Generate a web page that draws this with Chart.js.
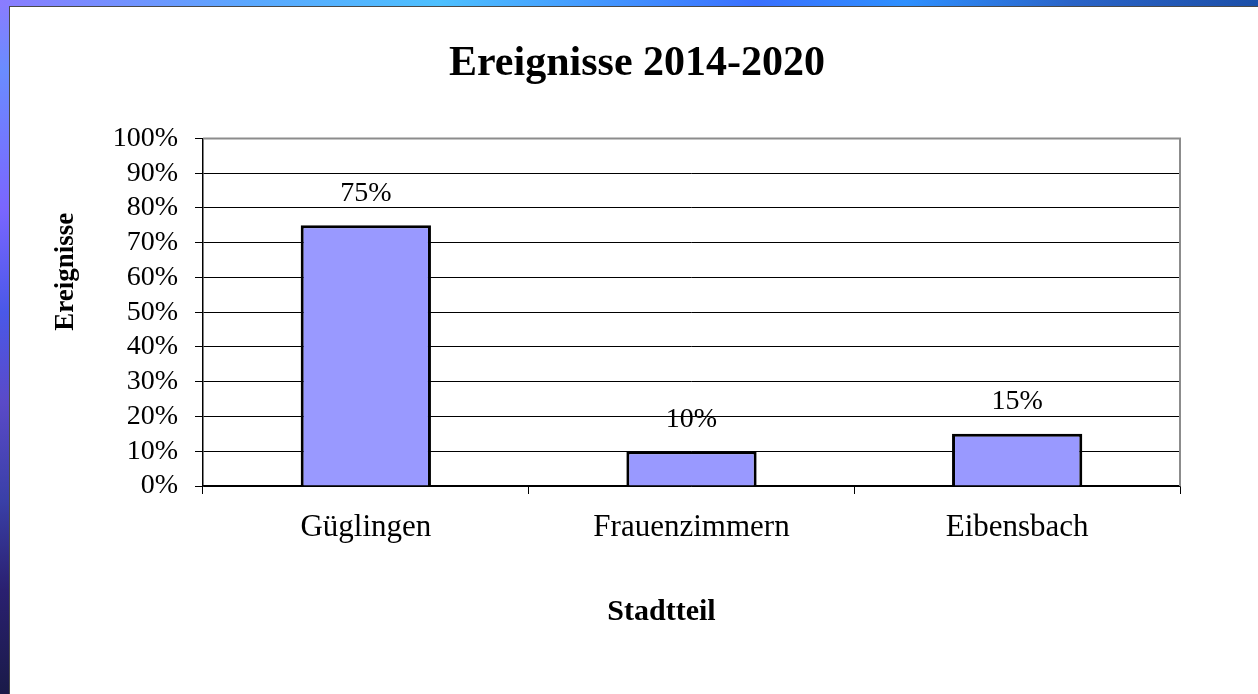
<!DOCTYPE html>
<html>
<head>
<meta charset="utf-8">
<script src="https://cdn.jsdelivr.net/npm/chart.js@4.4.1/dist/chart.umd.min.js"></script>
<style>
    html, body { margin: 0; padding: 0; }
    body {
        width: 1258px; height: 694px; overflow: hidden; position: relative;
        background:
            linear-gradient(to right, #8a7cff 0%, #5aa8ff 20%, #4dc0ff 35%, #3a70ff 60%, #2e90ff 72%, #2a64c8 85%, #1c4fa8 100%) top left / 100% 7px no-repeat,
            linear-gradient(to bottom, #8a7cff 0%, #6a8cff 10%, #7a66ff 30%, #4a58e8 45%, #5a4ac8 58%, #3a40a8 72%, #2a2070 85%, #1a1a48 100%);
    }
    .frame {
        position: absolute; left: 9px; top: 6px; right: 0; bottom: 0;
        background: #fff;
        border-left: 1px solid #4a4a4a;
        border-top: 1px solid #4a4a4a;
    }
    canvas { display: block; }
</style>
</head>
<body>
<div class="frame">
    <canvas id="chart" width="1248" height="687"></canvas>
</div>
<script>
    'use strict';

    // Data
    const CATEGORIES = ['Güglingen', 'Frauenzimmern', 'Eibensbach'];
    const SHARES = [75, 10, 15];
    const Y_TICKS = [0, 10, 20, 30, 40, 50, 60, 70, 80, 90, 100];

    const SERIF = '"Liberation Serif", "Times New Roman", serif';

    // value labels above each bar
    const barLabels = {
        id: 'barLabels',
        afterDatasetsDraw(chart) {
            const ctx = chart.ctx;
            const meta = chart.getDatasetMeta(0);
            ctx.save();
            ctx.font = '28px ' + SERIF;
            ctx.fillStyle = '#000';
            ctx.textAlign = 'center';
            ctx.textBaseline = 'middle';
            meta.data.forEach((bar, i) => {
                ctx.fillText(SHARES[i] + '%', bar.x, bar.y - 32);
            });
            ctx.restore();
        }
    };

    // grey top and right edge of the plot area
    const plotFrame = {
        id: 'plotFrame',
        afterDraw(chart) {
            const {ctx, chartArea: a} = chart;
            ctx.save();
            ctx.strokeStyle = '#8c8c8c';
            ctx.lineWidth = 2;
            ctx.beginPath();
            ctx.moveTo(a.left, a.top);
            ctx.lineTo(a.right, a.top);
            ctx.lineTo(a.right, a.bottom);
            ctx.stroke();
            ctx.restore();
        }
    };

    new Chart(document.getElementById('chart').getContext('2d'), {
        type: 'bar',
        data: {
            labels: CATEGORIES,
            datasets: [{
                data: SHARES,
                backgroundColor: '#9999ff',
                borderColor: '#000',
                borderWidth: 3,
                barPercentage: 0.4,
                categoryPercentage: 1
            }]
        },
        options: {
            responsive: false,
            animation: false,
            layout: { padding: { top: 0, left: 6, right: 0, bottom: 0 } },
            plugins: {
                legend: { display: false },
                tooltip: { enabled: false },
                title: {
                    display: true,
                    text: 'Ereignisse 2014-2020',
                    color: '#000',
                    font: { family: SERIF, size: 42, weight: 'bold' },
                    padding: { top: 32, bottom: 49 }
                }
            },
            scales: {
                x: {
                    afterFit(scale) { scale.height = 208; },
                    grid: { drawOnChartArea: false, color: '#000', tickLength: 8, offset: true },
                    border: { color: '#000', width: 1.5 },
                    ticks: { color: '#000', padding: 15, font: { family: SERIF, size: 31 } },
                    title: {
                        display: true,
                        // trailing spaces pull the title a little left of the axis middle
                        text: 'Stadtteil        ',
                        color: '#000',
                        font: { family: SERIF, size: 30, weight: 'bold' },
                        padding: { top: 0, bottom: 64 }
                    }
                },
                y: {
                    min: 0,
                    max: 100,
                    afterFit(scale) { scale.width = 187; },
                    afterBuildTicks(scale) { scale.ticks = Y_TICKS.map(v => ({ value: v })); },
                    grid: { color: '#000', lineWidth: 1, tickLength: 8 },
                    border: { color: '#000', width: 1.5 },
                    ticks: {
                        color: '#000',
                        padding: 17,
                        autoSkip: false,
                        font: { family: SERIF, size: 28 },
                        callback: (v) => v + '%'
                    },
                    title: {
                        display: true,
                        // leading spaces lift the rotated title above the axis middle
                        text: '            Ereignisse',
                        color: '#000',
                        font: { family: SERIF, size: 27, weight: 'bold' },
                        padding: { top: 34, bottom: 0 }
                    }
                },
                // empty right-hand axis that only reserves the margin right of the plot
                yRight: {
                    type: 'linear',
                    position: 'right',
                    display: true,
                    afterFit(scale) { scale.width = 78; },
                    grid: { display: false },
                    border: { display: false },
                    ticks: { display: false }
                }
            }
        },
        plugins: [barLabels, plotFrame]
    });
</script>
</body>
</html>
